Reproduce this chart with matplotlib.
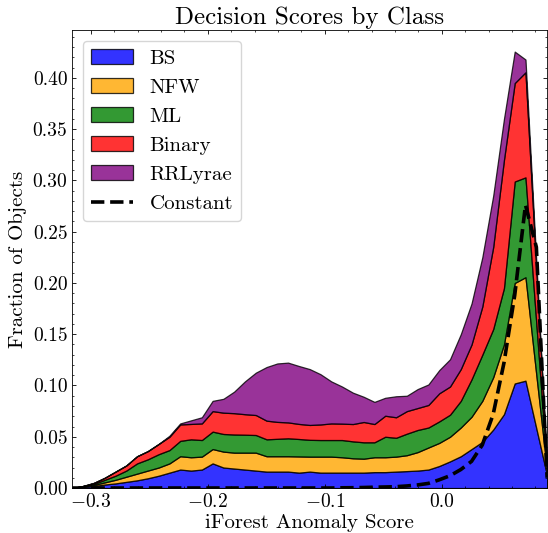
import numpy as np
import matplotlib
matplotlib.use("Agg")
import matplotlib.pyplot as plt

# ----- S T Y L E -----
plt.rcParams["font.family"] = "serif"
plt.rcParams["font.serif"] = ["cmr10", "DejaVu Serif"]
plt.rcParams["mathtext.fontset"] = "cm"
plt.rcParams["axes.formatter.use_mathtext"] = True
plt.rcParams["axes.linewidth"] = 0.6
for ax_ in ("xtick", "ytick"):
    plt.rcParams[f"{ax_}.direction"] = "in"
    plt.rcParams[f"{ax_}.major.size"] = 3
    plt.rcParams[f"{ax_}.minor.size"] = 1.5
    plt.rcParams[f"{ax_}.major.width"] = 0.6
    plt.rcParams[f"{ax_}.minor.width"] = 0.5
    plt.rcParams[f"{ax_}.minor.visible"] = True
plt.rcParams["xtick.top"] = True
plt.rcParams["ytick.right"] = True

# ----- D A T A -----
# bin centres of the iForest decision score
score = [-0.3157, -0.3065, -0.2973, -0.2880, -0.2788, -0.2696, -0.2604, -0.2512, -0.2419,
         -0.2327, -0.2235, -0.2143, -0.2050, -0.1958, -0.1866, -0.1774, -0.1682, -0.1589,
         -0.1497, -0.1405, -0.1313, -0.1220, -0.1128, -0.1036, -0.0944, -0.0852, -0.0759,
         -0.0667, -0.0575, -0.0483, -0.0390, -0.0298, -0.0206, -0.0114, -0.0021, 0.0071,
         0.0163, 0.0255, 0.0347, 0.0440, 0.0532, 0.0624, 0.0716, 0.0809, 0.0901]

bs = [0, 0.001, 0.002, 0.0034, 0.0045, 0.006, 0.0075, 0.0095, 0.012, 0.015, 0.018, 0.017,
      0.018, 0.024, 0.020, 0.019, 0.018, 0.017, 0.016, 0.016, 0.016, 0.015, 0.016, 0.015,
      0.015, 0.015, 0.015, 0.015, 0.0155, 0.0155, 0.016, 0.0165, 0.017, 0.018, 0.0215,
      0.026, 0.031, 0.038, 0.045, 0.057, 0.072, 0.102, 0.1047, 0.058, 0.012]
nfw = [0, 0.0005, 0.001, 0.0021, 0.0035, 0.005, 0.0065, 0.0075, 0.008, 0.009, 0.013, 0.013,
       0.0126, 0.014, 0.0155, 0.0155, 0.0165, 0.0175, 0.015, 0.015, 0.015, 0.0158, 0.0146,
       0.0156, 0.0156, 0.015, 0.014, 0.0136, 0.0145, 0.0145, 0.0146, 0.0155, 0.018, 0.0215,
       0.0225, 0.024, 0.028, 0.0315, 0.040, 0.051, 0.068, 0.098, 0.1009, 0.052, 0.004]
ml = [0, 0.0005, 0.001, 0.0025, 0.004, 0.006, 0.010, 0.011, 0.013, 0.013, 0.015, 0.0175,
      0.0162, 0.017, 0.0172, 0.0177, 0.0175, 0.0172, 0.0165, 0.017, 0.0175, 0.017, 0.0164,
      0.0162, 0.0162, 0.0168, 0.0165, 0.016, 0.0146, 0.020, 0.0184, 0.021, 0.0216, 0.0195,
      0.021, 0.0215, 0.026, 0.0365, 0.045, 0.047, 0.055, 0.099, 0.0974, 0.050, 0.002]
binary = [0, 0, 0.001, 0.002, 0.004, 0.005, 0.007, 0.008, 0.010, 0.013, 0.016, 0.015,
          0.0162, 0.020, 0.0208, 0.0208, 0.020, 0.0195, 0.0182, 0.0165, 0.0155, 0.0147,
          0.0145, 0.0152, 0.0162, 0.016, 0.0169, 0.0198, 0.0178, 0.0205, 0.020, 0.022,
          0.0214, 0.022, 0.0274, 0.0275, 0.031, 0.034, 0.047, 0.080, 0.125, 0.096, 0.1025,
          0.052, 0.002]
rrlyrae = [0, 0, 0, 0, 0, 0, 0, 0, 0, 0.001, 0.001, 0.0035, 0.006, 0.010, 0.0135, 0.021,
           0.032, 0.0413, 0.0523, 0.057, 0.0583, 0.0565, 0.0545, 0.049, 0.041, 0.0362,
           0.0306, 0.0246, 0.0216, 0.0175, 0.0205, 0.015, 0.0185, 0.020, 0.0226, 0.0266,
           0.034, 0.040, 0.048, 0.050, 0.040, 0.0307, 0.0125, 0.008, 0.001]
constant = [0, 0, 0, 0, 0, 0, 0, 0, 0, 0, 0, 0, 0, 0, 0, 0, 0, 0, 0, 0, 0, 0, 0, 0, 0,
            0.0002, 0.0003, 0.0005, 0.0008, 0.001, 0.0013, 0.002, 0.003, 0.0045, 0.008,
            0.012, 0.018, 0.026, 0.042, 0.072, 0.122, 0.188, 0.276, 0.235, 0.01]

labels = ["BS", "NFW", "ML", "Binary", "RRLyrae"]
colors = ["blue", "orange", "green", "red", "purple"]

# ----- P L O T -----
fig = plt.figure(figsize=(5.48, 5.33), dpi=100)
ax = fig.add_axes([0.132, 0.0844, 0.8664, 0.8584])

ax.stackplot(score, bs, nfw, ml, binary, rrlyrae, labels=labels, colors=colors,
             alpha=0.8, edgecolor="black", linewidth=0.9)
ax.plot(score, constant, color="black", linestyle="--", linewidth=2.6, label="Constant")

ax.set_xlim(score[0], score[-1])
ax.set_ylim(0, 0.4463)
ax.set_xticks([-0.3, -0.2, -0.1, 0.0])
ax.set_yticks(np.arange(0, 0.41, 0.05))
ax.xaxis.set_minor_locator(matplotlib.ticker.MultipleLocator(0.02))
ax.yaxis.set_minor_locator(matplotlib.ticker.MultipleLocator(0.01))
ax.tick_params(labelsize=14)
ax.yaxis.set_major_formatter(matplotlib.ticker.FormatStrFormatter("%.2f"))
ax.xaxis.set_major_formatter(matplotlib.ticker.FuncFormatter(
    lambda v, p: f"${v:.1f}$".replace("-", "-") if v < 0 else f"{v:.1f}"))

ax.set_xlabel("iForest Anomaly Score", fontsize=15, labelpad=2)
ax.set_ylabel("Fraction of Objects", fontsize=15)
ax.set_title("Decision Scores by Class", fontsize=18, pad=5)
ax.legend(loc="upper left", fontsize=15)

fig.savefig("out.png", dpi=100)
